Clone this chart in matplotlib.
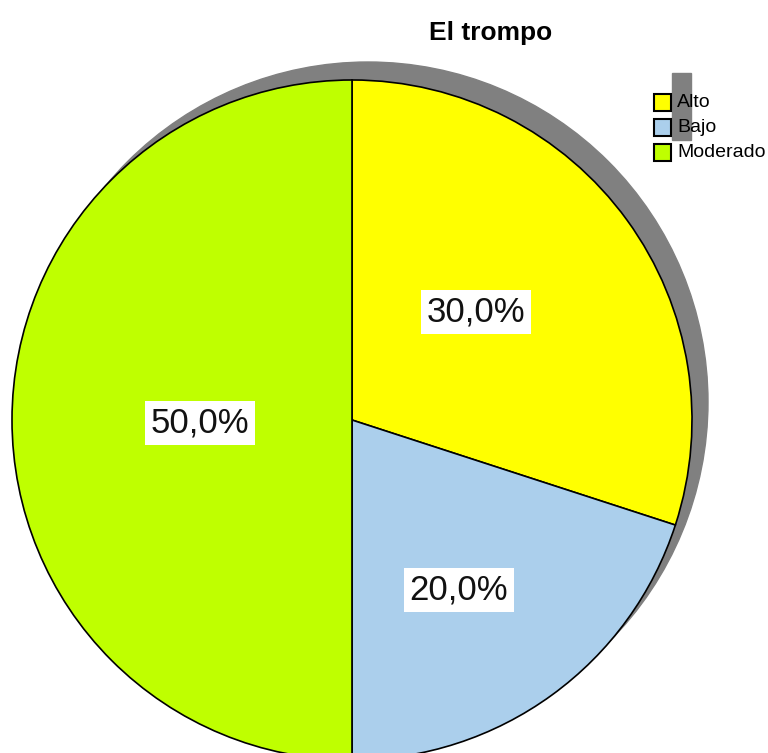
import matplotlib.pyplot as plt
from matplotlib.patches import Circle, Rectangle

plt.rcParams['font.family'] = ['Liberation Sans', 'DejaVu Sans']

labels = ['Alto', 'Bajo', 'Moderado']
values = [30.0, 20.0, 50.0]
colors = ['#ffff00', '#abcfec', '#bfff00']
title = 'El trompo'

W, H = 768, 753
fig = plt.figure(figsize=(W / 100, H / 100), dpi=100)
ax = fig.add_axes([0, 0, 1, 1])

cx, cy, r = 352, H - 420, 340

# drop shadow behind the pie
ax.add_patch(Circle((cx + 16, cy + 18), r, color='#808080', zorder=0))

wedges, _ = ax.pie(values, colors=colors, startangle=90, counterclock=False,
                   center=(cx, cy), radius=r, frame=True,
                   wedgeprops=dict(edgecolor='black', linewidth=1.2))
for w in wedges:
    w.set_zorder(1)

# percent labels
label_pos = [(476, 312), (459, 590), (200, 423)]
for v, (x, y) in zip(values, label_pos):
    ax.text(x, H - y, f'{v:.1f}%'.replace('.', ','), fontsize=25,
            ha='center', va='center', color='#111111', zorder=3,
            bbox=dict(facecolor='white', edgecolor='none', pad=4))

ax.set_xlim(0, W)
ax.set_ylim(0, H)
ax.set_aspect('auto')
ax.axis('off')

ax.text(491, H - 33, title, fontsize=19, fontweight='bold',
        ha='center', va='center')

# legend with its little grey shadow block
ax.add_patch(Rectangle((672, H - 140), 19, 67, color='#808080', zorder=2))
y0 = 102
for i, (lab, col) in enumerate(zip(labels, colors)):
    yy = H - (y0 + 25 * i)
    ax.add_patch(Rectangle((654, yy - 8.5), 17, 17, facecolor=col,
                           edgecolor='black', linewidth=1.5, zorder=3))
    ax.text(677, yy, lab, fontsize=14, va='center', ha='left', zorder=4)

fig.savefig('out.png', dpi=100)
